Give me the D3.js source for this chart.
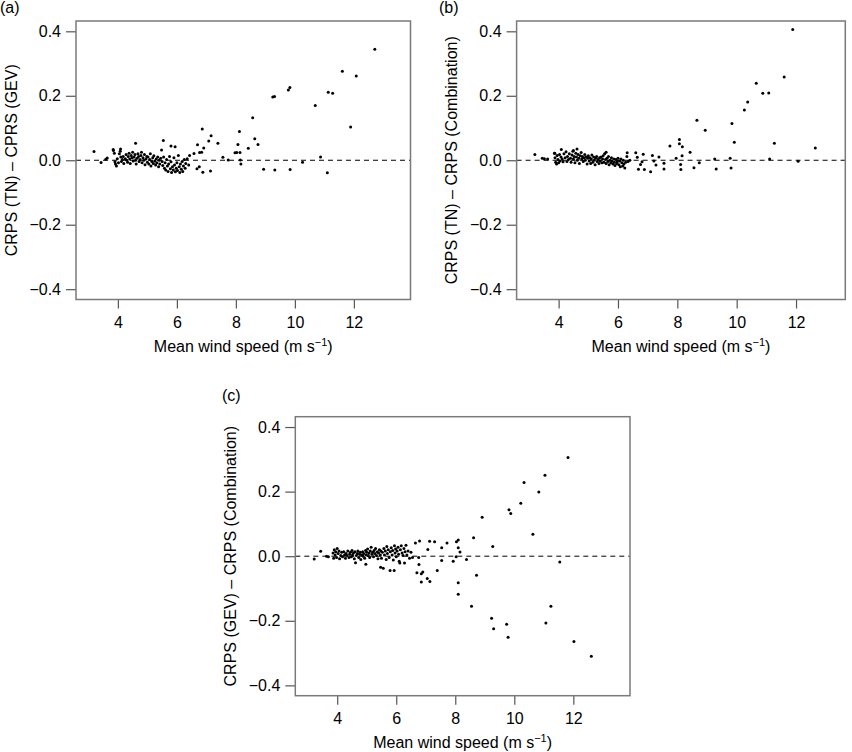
<!DOCTYPE html>
<html><head><meta charset="utf-8">
<script src="https://cdn.jsdelivr.net/npm/d3@7"></script>
<style>body{margin:0;background:#fff}svg{display:block}text{font-family:"Liberation Sans",Arial,Helvetica,sans-serif}</style>
</head><body>
<svg id="c" width="852" height="752"></svg>
<script>
// Panel (a): CRPS(TN) - CRPS(GEV)
const speedA = [3.19,12.71,12.08,11.61,11.13,11.28,10.69,11.89,10.87,10.26,11.10,9.84,9.32,8.94,9.25,9.31,9.78,9.83,8.57,8.64,8.75,8.42,8.12,8.07,7.97,8.03,8.14,8.15,8.17,7.74,7.56,7.39,7.16,7.08,6.86,6.91,6.84,6.77,6.70,6.58,6.43,7.14,6.88,6.76,6.68,5.54,5.80,5.94,4.60,3.84,4.09,3.43,3.59,3.64,
3.85,3.88,3.90,3.92,3.95,3.98,4.02,4.05,4.08,4.10,4.12,4.15,4.18,4.20,
4.25,4.28,4.30,4.33,4.35,4.38,4.40,4.42,4.45,4.48,4.50,4.52,4.55,4.58,4.60,4.62,4.65,4.68,4.70,4.72,4.75,4.78,4.80,4.82,4.85,4.88,4.90,4.92,4.95,4.98,
5.00,5.02,5.05,5.08,5.10,5.12,5.15,5.18,5.20,5.22,5.25,5.28,5.30,5.32,5.35,5.38,5.40,5.42,5.45,5.48,5.50,
5.52,5.55,5.58,5.60,5.62,5.65,5.68,5.70,5.72,5.75,5.78,5.80,5.82,5.85,5.88,5.90,5.92,5.95,5.98,6.00,6.02,6.05,6.08,6.10,6.12,6.15,6.18,6.20,6.22,6.25,6.28,6.30,6.35,6.40];
const diffA = [0.027,0.344,0.261,0.276,0.211,0.208,0.170,0.103,0.010,-0.006,-0.039,-0.029,-0.030,-0.028,0.196,0.198,0.218,0.226,0.132,0.067,0.049,0.037,0.089,0.049,0.023,0.024,0.024,0.001,-0.012,0.001,0.009,0.053,0.076,0.060,0.097,0.038,0.025,0.024,0.048,0.021,0.015,-0.033,-0.037,-0.020,-0.026,0.061,0.044,0.042,0.053,0.033,0.035,-0.007,0.003,0.007,
0.030,0.022,-0.005,-0.012,-0.018,0.005,-0.008,0.020,0.028,0.010,-0.004,0.002,0.012,-0.010,
0.005,0.018,0.000,-0.006,0.012,0.022,0.004,-0.010,0.015,0.008,0.025,-0.002,0.010,0.018,0.000,-0.012,0.006,0.020,0.012,-0.004,0.002,0.015,0.025,-0.008,0.008,0.000,0.018,-0.014,0.004,0.012,
-0.006,0.010,-0.012,0.002,0.020,-0.018,-0.004,0.008,-0.010,0.014,-0.002,-0.015,0.004,-0.008,0.010,-0.020,0.000,-0.012,0.006,0.032,-0.004,
-0.016,0.010,-0.025,-0.008,-0.030,0.002,-0.018,-0.035,-0.012,0.012,-0.026,-0.005,-0.038,-0.020,-0.030,0.008,-0.015,-0.036,-0.025,-0.008,-0.032,0.015,-0.020,-0.038,-0.012,-0.028,-0.004,-0.035,-0.018,0.002,-0.025,-0.010,0.005,-0.015];

// Panel (b): CRPS(TN) - CRPS(Combination)
const speedB = [11.89,11.60,10.66,10.88,11.08,10.37,10.26,9.84,9.92,11.27,12.65,11.11,12.07,9.78,9.81,9.31,9.26,8.94,8.66,8.74,8.56,8.43,8.17,8.07,8.07,8.16,8.11,8.12,7.96,7.75,7.55,7.55,7.38,7.28,7.16,7.10,7.21,6.89,6.85,6.69,6.60,6.65,6.76,6.81,6.31,3.20,3.45,3.52,3.63,3.87,4.09,4.62,4.50,5.60,
3.86,3.88,3.90,3.93,3.95,3.98,4.00,4.03,4.05,4.08,4.12,4.15,4.18,
4.22,4.25,4.28,4.30,4.33,4.36,4.40,4.42,4.45,4.48,4.50,4.52,4.55,4.58,4.60,4.63,4.66,4.68,4.70,4.73,4.76,4.78,4.80,4.83,4.86,4.88,4.90,4.93,4.96,4.98,
5.00,5.03,5.05,5.08,5.10,5.12,5.15,5.18,5.20,5.23,5.25,5.28,5.30,5.33,5.36,5.38,5.40,5.43,5.46,5.48,5.50,
5.53,5.55,5.58,5.60,5.63,5.66,5.68,5.70,5.73,5.76,5.78,5.80,5.83,5.86,5.88,5.90,5.93,5.96,5.98,6.00,6.03,6.06,6.08,6.10,6.13,6.16,6.18,6.20,6.23,6.26,6.30,6.34,6.40];
const diffB = [0.406,0.258,0.239,0.208,0.209,0.181,0.156,0.114,0.056,0.053,0.038,0.004,-0.003,0.006,-0.024,-0.027,0.004,0.093,0.124,-0.008,-0.023,0.025,0.042,0.064,0.051,0.014,-0.013,-0.029,0.006,0.044,-0.009,-0.027,0.010,-0.015,0.015,-0.036,-0.002,-0.029,0.019,-0.028,0.023,0.009,-0.013,-0.005,0.023,0.018,0.006,0.005,0.004,0.022,0.033,0.035,0.030,0.025,
0.022,0.008,-0.006,-0.012,0.015,0.002,-0.008,0.018,-0.002,0.010,0.004,-0.005,0.020,
0.008,0.026,-0.004,0.012,0.002,0.020,0.006,-0.006,0.016,0.028,0.004,0.012,-0.008,0.022,0.010,0.000,0.018,0.006,-0.010,0.014,0.024,0.004,0.012,-0.004,0.008,0.018,0.000,0.010,-0.012,0.006,
0.014,-0.002,0.008,-0.010,0.004,0.016,-0.006,0.010,0.000,-0.014,0.006,0.012,-0.004,0.002,-0.010,0.008,-0.002,0.010,-0.008,0.004,0.014,
-0.006,0.020,0.002,-0.010,0.006,-0.004,0.012,-0.014,0.000,-0.008,0.008,-0.002,-0.012,0.004,-0.006,-0.016,0.002,-0.010,-0.004,0.006,-0.014,-0.002,-0.020,0.004,-0.008,-0.018,0.000,-0.012,-0.024,-0.006,0.012,-0.004,0.000];

// Panel (c): CRPS(GEV) - CRPS(Combination)
const speedC = [11.82,11.04,10.33,10.83,10.22,9.82,9.88,8.91,10.63,9.27,8.62,11.54,8.38,8.72,8.10,8.10,8.16,8.03,8.04,7.93,7.72,7.54,7.54,7.39,7.30,7.13,7.07,7.05,7.14,6.85,6.90,6.85,6.77,6.70,6.79,6.65,6.76,8.10,8.10,8.55,9.23,9.30,9.74,9.79,11.24,11.07,12.02,12.61,3.22,3.44,3.64,3.70,6.55,
3.86,3.88,3.90,3.93,3.95,3.98,4.00,4.03,4.06,4.08,4.12,4.15,4.18,
4.22,4.25,4.28,4.30,4.33,4.36,4.40,4.42,4.45,4.48,4.50,4.52,4.55,4.58,4.60,4.62,4.65,4.68,4.70,4.73,4.76,4.78,4.80,4.83,4.86,4.88,4.90,4.93,4.96,4.97,4.98,
5.00,5.03,5.05,5.08,5.10,5.12,5.15,5.18,5.20,5.23,5.25,5.28,5.30,5.33,5.36,5.38,5.40,5.43,5.46,5.47,5.48,5.50,
5.53,5.56,5.58,5.60,5.63,5.66,5.68,5.70,5.73,5.76,5.79,5.80,5.83,5.86,5.88,5.90,5.93,5.94,5.96,5.98,6.00,6.03,6.06,6.08,6.10,6.12,6.14,6.17,6.20,6.23,6.26,6.28,6.30,6.33,6.36,6.40,6.45,6.50];
const diffC = [0.306,0.251,0.228,0.199,0.164,0.144,0.132,0.121,0.068,0.030,0.057,-0.018,-0.010,-0.059,0.026,0.050,0.013,-0.002,0.045,-0.016,0.041,0.026,-0.013,-0.044,0.045,0.046,0.021,-0.069,-0.078,-0.080,-0.049,-0.054,-0.026,-0.051,0.047,0.041,-0.004,-0.082,-0.118,-0.155,-0.192,-0.225,-0.211,-0.251,-0.155,-0.207,-0.264,-0.310,-0.009,0.015,0.000,-0.002,-0.004,
0.010,-0.006,0.020,0.004,0.014,-0.004,0.024,0.008,0.016,-0.008,0.002,0.012,-0.002,
0.014,0.004,-0.006,0.008,0.002,0.016,-0.004,0.006,0.012,-0.002,0.018,0.004,0.010,-0.008,0.014,-0.020,0.002,0.008,0.016,-0.004,0.006,0.012,-0.010,0.004,0.014,0.000,0.008,-0.006,0.018,-0.025,0.004,
0.012,0.022,0.002,0.010,-0.004,0.016,0.028,0.006,0.012,-0.002,0.018,0.008,0.024,0.002,0.014,-0.008,0.010,0.020,0.004,-0.034,0.016,-0.006,
0.012,-0.037,0.024,0.004,0.016,-0.010,0.030,0.008,0.020,-0.004,-0.044,0.014,0.026,0.004,0.018,-0.012,-0.044,0.032,0.010,0.022,-0.002,0.016,0.028,0.006,-0.016,-0.021,0.020,0.032,0.010,0.002,0.024,-0.021,0.014,0.034,0.004,0.016,-0.006,0.012];

const xTicks = [4,6,8,10,12];
const yTicks = [-0.4,-0.2,0.0,0.2,0.4];
const yTickLabels = ["\u22120.4","\u22120.2","0.0","0.2","0.4"];
const xTitle = "Mean wind speed (m s";
const panels = [
  {tag:"(a)", title:"CRPS (TN) \u2013 CPRS (GEV)", xs:speedA, ys:diffA,
   box:[76,410.5,21,299.5], xd:[2.58,13.92], tagPos:[0,13]},
  {tag:"(b)", title:"CRPS (TN) \u2013 CRPS (Combination)", xs:speedB, ys:diffB,
   box:[516.6,845.3,21,299.5], xd:[2.584,13.66], tagPos:[439,13]},
  {tag:"(c)", title:"CRPS (GEV) \u2013 CRPS (Combination)", xs:speedC, ys:diffC,
   box:[295.3,630,416.7,695.7], xd:[2.58,13.92], tagPos:[222,401]}
];
const FS = "16px";

const svg = d3.select("#c");
panels.forEach(p => {
  const [l,r,t,b] = p.box;
  const x = d3.scaleLinear().domain(p.xd).range([l,r]);
  const y = d3.scaleLinear().domain([-0.432,0.432]).range([b,t]);
  const g = svg.append("g");

  // zero reference line
  g.append("line").attr("x1",l).attr("x2",r).attr("y1",y(0)).attr("y2",y(0))
    .attr("stroke","#000").attr("stroke-width",1).attr("stroke-dasharray","5,4");

  // points
  g.selectAll("circle").data(d3.zip(p.xs,p.ys)).join("circle")
    .attr("cx",d=>x(d[0])).attr("cy",d=>y(d[1])).attr("r",1.5).attr("fill","#000");

  // axes
  const xAx = g.append("g").attr("transform",`translate(0,${b})`)
    .call(d3.axisBottom(x).tickValues(xTicks).tickSize(9).tickPadding(8).tickFormat(d3.format("d")));
  const yAx = g.append("g").attr("transform",`translate(${l},0)`)
    .call(d3.axisLeft(y).tickValues(yTicks).tickSize(10).tickPadding(5).tickFormat((d,i)=>yTickLabels[i]));
  [xAx,yAx].forEach(a=>{
    a.select(".domain").remove();
    a.selectAll(".tick line").attr("stroke","#555").attr("stroke-width",1.2);
    a.selectAll(".tick text").attr("fill","#000").style("font-size",FS)
      .style("font-family","'Liberation Sans',Arial,sans-serif");
  });
  xAx.selectAll(".tick text").attr("dy","0.71em");

  // box
  g.append("rect").attr("x",l).attr("y",t).attr("width",r-l).attr("height",b-t)
    .attr("fill","none").attr("stroke","#7a7a7a").attr("stroke-width",1.5);

  // x title
  const xt = g.append("text").attr("x",(l+r)/2).attr("y",b+52.5).attr("text-anchor","middle")
    .style("font-size",FS).attr("fill","#000");
  xt.append("tspan").text(xTitle);
  xt.append("tspan").attr("dy",-6).style("font-size","11px").text("\u22121");
  xt.append("tspan").attr("dy",6).text(")");

  // y title
  g.append("text").attr("transform",`translate(${l-59.5},${(t+b)/2}) rotate(-90)`)
    .attr("text-anchor","middle").style("font-size",FS).attr("fill","#000").text(p.title);

  // panel tag
  g.append("text").attr("x",p.tagPos[0]).attr("y",p.tagPos[1]).style("font-size",FS)
    .attr("fill","#000").text(p.tag);
});
</script>
</body></html>
